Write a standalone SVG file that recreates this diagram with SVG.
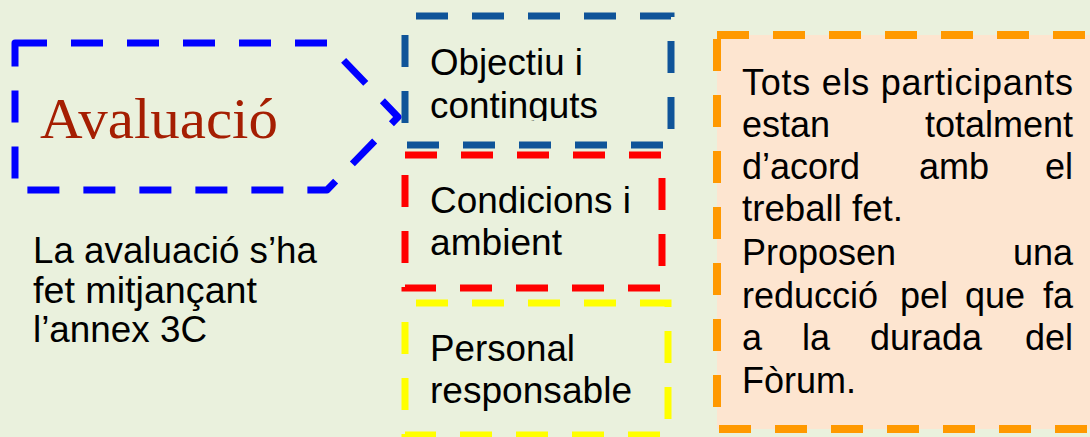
<svg xmlns="http://www.w3.org/2000/svg" width="1090" height="437" viewBox="0 0 1090 437">
<style>
.sans{font-family:"Liberation Sans",Arial,sans-serif;font-size:36px;fill:#000}
.box{fill:none;stroke-width:7;stroke-dasharray:32 24}
</style>
<defs>
<clipPath id="clipObj"><rect x="405" y="16" width="266" height="105"/></clipPath>
</defs>
<rect width="1090" height="437" fill="#EAF1DD"/>

<g id="avaluacio">
<path d="M15,43 L327,43 L398,117 L327,190 L15,190 Z" class="box" stroke="#0000FF" stroke-linejoin="round"/>
<text x="40" y="138" font-family="'Liberation Serif','Times New Roman',serif" font-size="58" fill="#A51E02" textLength="238" lengthAdjust="spacingAndGlyphs">Avaluació</text>
</g>

<g id="nota">
<text class="sans" x="33" y="263" textLength="284" lengthAdjust="spacingAndGlyphs">La avaluació s’ha</text>
<text class="sans" x="33" y="303" textLength="224" lengthAdjust="spacingAndGlyphs">fet mitjançant</text>
<text class="sans" x="33" y="342" textLength="174" lengthAdjust="spacingAndGlyphs">l’annex 3C</text>
</g>

<g id="objectiu">
<rect x="405" y="16" width="266" height="129" class="box" stroke="#0F5499" stroke-dashoffset="45"/>
<g clip-path="url(#clipObj)">
<text class="sans" x="430" y="75" textLength="153" lengthAdjust="spacingAndGlyphs">Objectiu i</text>
<text class="sans" x="430" y="118" textLength="168" lengthAdjust="spacingAndGlyphs">continguts</text>
</g>
</g>

<g id="condicions">
<rect x="405" y="155" width="257" height="133" class="box" stroke="#FF0000"/>
<text class="sans" x="430" y="213" textLength="201" lengthAdjust="spacingAndGlyphs">Condicions i</text>
<text class="sans" x="430" y="255" textLength="132" lengthAdjust="spacingAndGlyphs">ambient</text>
</g>

<g id="personal">
<rect x="405" y="303" width="263" height="132" class="box" stroke="#FFFF00" stroke-dashoffset="45"/>
<text class="sans" x="430" y="361" textLength="145" lengthAdjust="spacingAndGlyphs">Personal</text>
<text class="sans" x="430" y="403" textLength="202" lengthAdjust="spacingAndGlyphs">responsable</text>
</g>

<g id="resultat">
<rect x="717" y="35" width="380" height="394" fill="#FDE5D0" stroke="#FF9900" stroke-width="8" stroke-dasharray="32 24"/>
<text class="sans" x="742" y="95" textLength="331" lengthAdjust="spacing">Tots els participants</text>
<text class="sans" x="742" y="137">estan</text>
<text class="sans" x="1073" y="137" text-anchor="end">totalment</text>
<text class="sans" x="742" y="179">d’acord</text>
<text class="sans" x="919" y="179">amb</text>
<text class="sans" x="1073" y="179" text-anchor="end">el</text>
<text class="sans" x="742" y="221" textLength="161" lengthAdjust="spacingAndGlyphs">treball fet.</text>
<text class="sans" x="742" y="265">Proposen</text>
<text class="sans" x="1073" y="265" text-anchor="end">una</text>
<text class="sans" x="742" y="308">reducció</text>
<text class="sans" x="900" y="308">pel</text>
<text class="sans" x="965" y="308">que</text>
<text class="sans" x="1073" y="308" text-anchor="end">fa</text>
<text class="sans" x="742" y="350">a</text>
<text class="sans" x="802" y="350">la</text>
<text class="sans" x="870" y="350">durada</text>
<text class="sans" x="1073" y="350" text-anchor="end">del</text>
<text class="sans" x="742" y="393">Fòrum.</text>
</g>
</svg>
